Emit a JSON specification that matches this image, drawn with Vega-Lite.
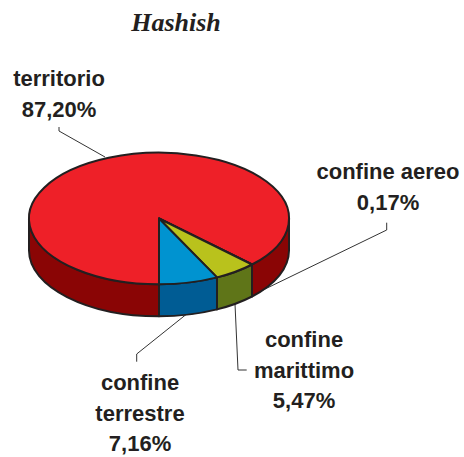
{
  "$schema": "https://vega.github.io/schema/vega-lite/v6.json",
  "autosize": {"type": "none"},
  "padding": {"top": 40, "left": 0, "right": 0, "bottom": 0},
  "width": 464,
  "height": 417,
  "background": "white",
  "view": {"stroke": null},
  "title": {"text": "Hashish", "font": "Liberation Serif", "fontSize": 26, "fontStyle": "italic", "fontWeight": "bold", "color": "#231f20", "anchor": "middle", "dx": -56, "dy": 26, "baseline": "alphabetic", "offset": 9},
  "data": {"values": [
    {"slice": "territorio", "share": 87.2, "label": "territorio\n87,20%"},
    {"slice": "confine aereo", "share": 0.17, "label": "confine aereo\n0,17%"},
    {"slice": "confine marittimo", "share": 5.47, "label": "confine\nmarittimo\n5,47%"},
    {"slice": "confine terrestre", "share": 7.16, "label": "confine\nterrestre\n7,16%"}
  ]},
  "resolve": {"scale": {"shape": "independent", "fill": "independent"}},
  "layer": [
    {
      "mark": {"type": "point", "filled": false, "opacity": 1, "stroke": "#333333", "strokeWidth": 1},
      "encoding": {
        "size": {"value": 4},
        "shape": {"field": "slice", "type": "nominal", "legend": null, "scale": {
          "domain": ["territorio", "confine aereo", "confine marittimo", "confine terrestre"],
          "range": ["M-173 -121.5L-173 -117.5L-127 -91.5", "M154.7 -25.8L154.7 -18.5L31 41.5", "M14.7 121.5L6 121.5L3 55.5", "M-95.3 113.2L-95.3 105.5L-45.3 65.5"]
        }}
      }
    },
    {
      "mark": {"type": "point", "filled": true, "opacity": 1, "stroke": "#231f20", "strokeWidth": 2, "strokeJoin": "round"},
      "encoding": {
        "size": {"value": 4},
        "shape": {"field": "slice", "type": "nominal", "legend": null, "scale": {
          "domain": ["territorio", "confine aereo", "confine marittimo", "confine terrestre"],
          "range": [
            "M-203 -30A130 65.8 0 0 0 -73 35.8L-73 67.8A130 65.8 0 0 1 -203 2ZM20 16A130 65.8 0 0 0 57 -30L57 2A130 65.8 0 0 1 20 48Z",
            "M20 16L20 16Z",
            "M-15 28.9A130 65.8 0 0 0 20 16L20 48A130 65.8 0 0 1 -15 60.9Z",
            "M-73 35.8A130 65.8 0 0 0 -15 28.9L-15 60.9A130 65.8 0 0 1 -73 67.8Z"
          ]
        }},
        "fill": {"field": "slice", "type": "nominal", "legend": null, "scale": {
          "domain": ["territorio", "confine aereo", "confine marittimo", "confine terrestre"],
          "range": ["#8a0505", "#231f20", "#5f7518", "#005c94"]
        }}
      }
    },
    {
      "mark": {"type": "point", "filled": true, "opacity": 1, "stroke": "#231f20", "strokeWidth": 2, "strokeJoin": "round"},
      "encoding": {
        "size": {"value": 4},
        "shape": {"field": "slice", "type": "nominal", "legend": null, "scale": {
          "domain": ["territorio", "confine aereo", "confine marittimo", "confine terrestre"],
          "range": [
            "M-73 -30L20 16A130 65.8 0 1 0 -73 35.8Z",
            "M-73 -30L20 16Z",
            "M-73 -30L-15 28.9A130 65.8 0 0 0 20 16Z",
            "M-73 -30L-73 35.8A130 65.8 0 0 0 -15 28.9Z"
          ]
        }},
        "fill": {"field": "slice", "type": "nominal", "legend": null, "scale": {
          "domain": ["territorio", "confine aereo", "confine marittimo", "confine terrestre"],
          "range": ["#ee2028", "#231f20", "#b9c21c", "#0093d0"]
        }}
      }
    },
    {
      "mark": {"type": "text", "font": "Liberation Sans", "fontWeight": "bold", "fontSize": 22, "color": "#231f20", "align": "center", "baseline": "alphabetic", "lineBreak": "\n", "lineHeight": 30.5},
      "encoding": {
        "text": {"field": "label", "type": "nominal"},
        "x": {"field": "share", "type": "quantitative", "axis": null, "scale": {"type": "linear", "nice": false, "zero": false, "domain": [0.17, 5.47, 7.16, 87.2], "range": [388, 304, 140, 59]}},
        "y": {"field": "share", "type": "quantitative", "axis": null, "scale": {"type": "linear", "nice": false, "zero": false, "domain": [0.17, 5.47, 7.16, 87.2], "range": [139, 307.3, 350, 46]}}
      }
    }
  ]
}
